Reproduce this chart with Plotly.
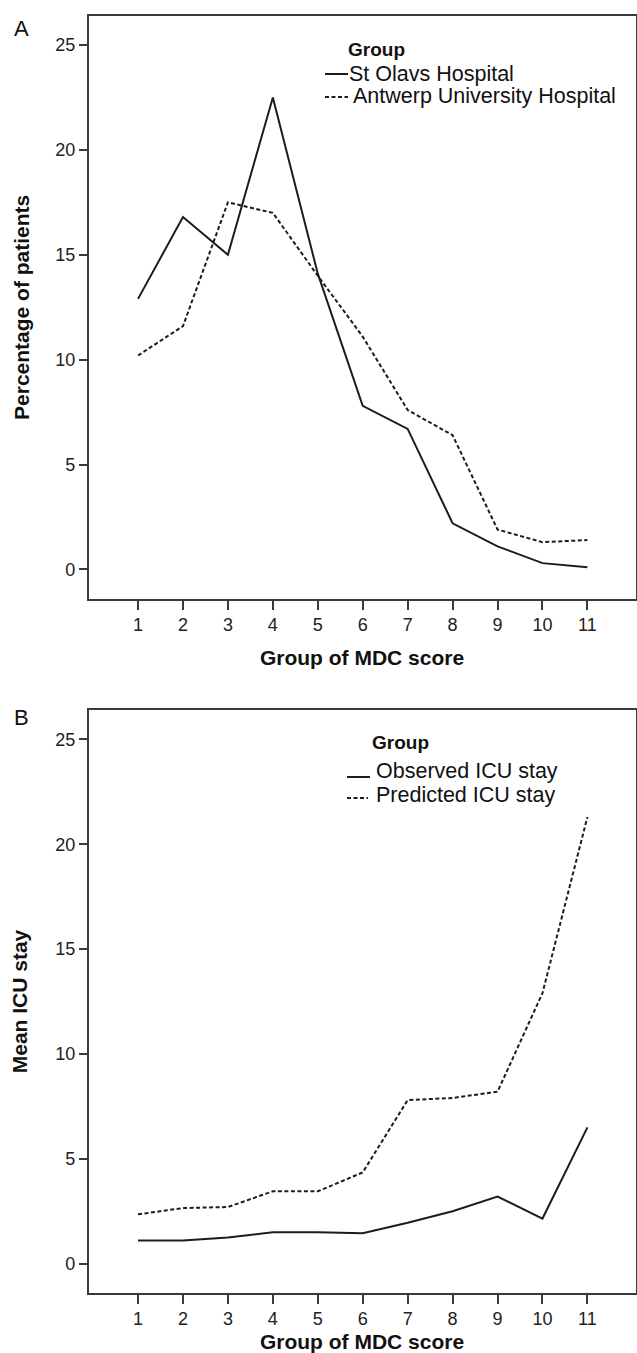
import plotly.graph_objects as go

W, H = 637, 1353

# ---- data ----
mdc_groups = [1, 2, 3, 4, 5, 6, 7, 8, 9, 10, 11]
st_olavs = [12.9, 16.8, 15.0, 22.5, 14.1, 7.8, 6.7, 2.2, 1.1, 0.3, 0.1]
antwerp = [10.2, 11.6, 17.5, 17.0, 14.0, 11.1, 7.6, 6.4, 1.9, 1.3, 1.4]
observed_icu = [1.1, 1.1, 1.25, 1.5, 1.5, 1.45, 1.95, 2.5, 3.2, 2.15, 6.5]
predicted_icu = [2.35, 2.65, 2.7, 3.45, 3.45, 4.35, 7.8, 7.9, 8.2, 12.9, 21.3]
y_ticks = [0, 5, 10, 15, 20, 25]

FONT = "Liberation Sans, Arial, Helvetica, sans-serif"
INK = "#1c1c1c"
AX = "#3a3a3a"
DASH = "4px,2.5px"


def px(x):
    return x / W


def py(y):
    return 1 - y / H


fig = go.Figure()
fig.add_trace(go.Scatter(x=mdc_groups, y=st_olavs, mode="lines", name="St Olavs Hospital",
                         line=dict(color=INK, width=2), xaxis="x", yaxis="y", showlegend=False))
fig.add_trace(go.Scatter(x=mdc_groups, y=antwerp, mode="lines", name="Antwerp University Hospital",
                         line=dict(color=INK, width=2, dash=DASH), xaxis="x", yaxis="y", showlegend=False))
fig.add_trace(go.Scatter(x=mdc_groups, y=observed_icu, mode="lines", name="Observed ICU stay",
                         line=dict(color=INK, width=2), xaxis="x2", yaxis="y2", showlegend=False))
fig.add_trace(go.Scatter(x=mdc_groups, y=predicted_icu, mode="lines", name="Predicted ICU stay",
                         line=dict(color=INK, width=2, dash=DASH), xaxis="x2", yaxis="y2", showlegend=False))

xdom = [px(88.6), px(635.5)]
common_x = dict(range=[-0.1, 12.07], tickmode="array", tickvals=mdc_groups,
                ticktext=[str(v) for v in mdc_groups], showgrid=False, zeroline=False,
                showline=True, mirror=True, linecolor=AX, linewidth=1.5,
                ticks="outside", ticklen=9, tickwidth=1.5, tickcolor=AX,
                tickfont=dict(family=FONT, size=18, color="#222"), automargin=False,
                domain=xdom)
common_y = dict(tickmode="array", tickvals=y_ticks, ticktext=[str(v) for v in y_ticks],
                showgrid=False, zeroline=False, showline=True, mirror=True,
                linecolor=AX, linewidth=1.5, ticks="outside", ticklen=8, tickwidth=1.5,
                tickcolor=AX, tickfont=dict(family=FONT, size=18, color="#222"),
                automargin=False)

fig.update_layout(
    width=W, height=H,
    margin=dict(l=0, r=0, t=0, b=0),
    paper_bgcolor="white", plot_bgcolor="white",
    font=dict(family=FONT, color="#111"),
    xaxis=dict(**common_x, anchor="y",
               title=dict(text="<b>Group of MDC score</b>", font=dict(family=FONT, size=21), standoff=16)),
    yaxis=dict(**common_y, range=[-1.41, 26.4], anchor="x", domain=[py(599), py(15.7)],
               title=dict(text="<b>Percentage of patients</b>", font=dict(family=FONT, size=21), standoff=20)),
    xaxis2=dict(**common_x, anchor="y2",
                title=dict(text="<b>Group of MDC score</b>", font=dict(family=FONT, size=21), standoff=8)),
    yaxis2=dict(**common_y, range=[-1.40, 26.4], anchor="x2", domain=[py(1293), py(710)],
                title=dict(text="<b>Mean ICU stay</b>", font=dict(family=FONT, size=21), standoff=22)),
)

ann = []
shapes = []


def text(x, y, s, size, bold=False, anchor="left"):
    ann.append(dict(x=px(x), y=py(y), xref="paper", yref="paper", text=("<b>%s</b>" % s) if bold else s,
                    showarrow=False, xanchor=anchor, yanchor="middle",
                    font=dict(family=FONT, size=size, color="#111")))


def key(x0, x1, y, dash=None):
    shapes.append(dict(type="line", xref="paper", yref="paper", x0=px(x0), x1=px(x1), y0=py(y), y1=py(y),
                       line=dict(color=INK, width=2, dash=dash or "solid")))


# panel letters
text(21, 28, "A", 22, anchor="center")
text(21, 717, "B", 22, anchor="center")

# legend A
text(346, 49, "Group", 19, bold=True)
key(325, 348, 74)
text(347, 74, "St Olavs Hospital", 21.5)
key(325, 348, 97, DASH)
text(351, 96, "Antwerp University Hospital", 21.5)

# legend B
text(370, 742, "Group", 19, bold=True)
key(347, 370, 777)
text(374, 771, "Observed ICU stay", 21.5)
key(347, 368, 798, DASH)
text(374, 795, "Predicted ICU stay", 21.5)

fig.update_layout(annotations=ann, shapes=shapes)
fig.write_html("out.html", config={"displayModeBar": False},
               post_script="document.body.style.margin='0px';document.body.style.padding='0px';")
